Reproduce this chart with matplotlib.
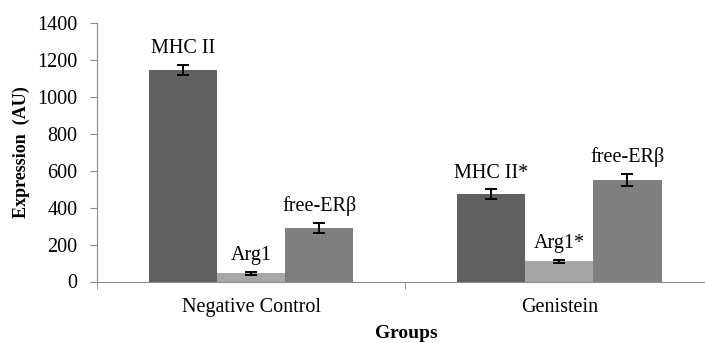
import matplotlib.pyplot as plt
import numpy as np

# Data
groups = ["Negative Control", "Genistein"]
markers = ["MHC II", "Arg1", "free-ERβ"]
mhc2 = [1147, 474]
arg1 = [44, 111]
free_erb = [288, 550]
mhc2_err = [25, 25]
arg1_err = [8, 8]
free_erb_err = [27, 33]
bar_labels = [["MHC II", "MHC II*"], ["Arg1", "Arg1*"], ["free-ERβ", "free-ERβ"]]
y_ticks = [0, 200, 400, 600, 800, 1000, 1200, 1400]

colors = ["#606060", "#a7a7a7", "#7f7f7f"]
axis_color = "#8c8c8c"

plt.rcParams["font.family"] = ["Liberation Serif", "DejaVu Serif"]

fig = plt.figure(figsize=(7.05, 3.43), dpi=100)
ax = fig.add_axes([97 / 705, 61.5 / 343, 616.5 / 705, 258.2 / 343])

x = np.arange(len(groups))
width = 0.221
series = [mhc2, arg1, free_erb]
errors = [mhc2_err, arg1_err, free_erb_err]

for idx, (vals, errs) in enumerate(zip(series, errors)):
    pos = x + (idx - 1) * width
    ax.bar(pos, vals, width=width, color=colors[idx], zorder=2)
    ax.errorbar(pos, vals, yerr=errs, fmt="none", ecolor="black",
                elinewidth=1.4, capsize=4.5, capthick=1.4, zorder=3)
    for px, v, e, lab in zip(pos, vals, errs, bar_labels[idx]):
        ax.annotate(lab, (px, v + e), xytext=(0, 5), textcoords="offset points",
                    ha="center", va="bottom", fontsize=14.5)

ax.set_xlim(-0.5, 1.5)
ax.set_ylim(0, 1400)
ax.set_yticks(y_ticks)
ax.set_yticklabels([str(t) for t in y_ticks], fontsize=14.5)
ax.set_xticks(x)
ax.set_xticklabels(groups, fontsize=14.5)
ax.set_xticks([-0.5, 0.5, 1.5], minor=True)
ax.tick_params(axis="x", which="major", length=0, pad=12)
ax.tick_params(axis="x", which="minor", length=5, color=axis_color)
ax.tick_params(axis="y", length=5, color=axis_color, pad=9)

for side in ["top", "right"]:
    ax.spines[side].set_visible(False)
for side in ["left", "bottom"]:
    ax.spines[side].set_color(axis_color)

ax.set_ylabel("Expression  (AU)", fontsize=13, fontweight="bold")
ax.yaxis.set_label_coords(-0.108, 0.5)
fig.text(406 / 705, 1 - 333 / 343, "Groups", fontsize=14, fontweight="bold",
         ha="center", va="center")

fig.savefig("out.png", dpi=100)
